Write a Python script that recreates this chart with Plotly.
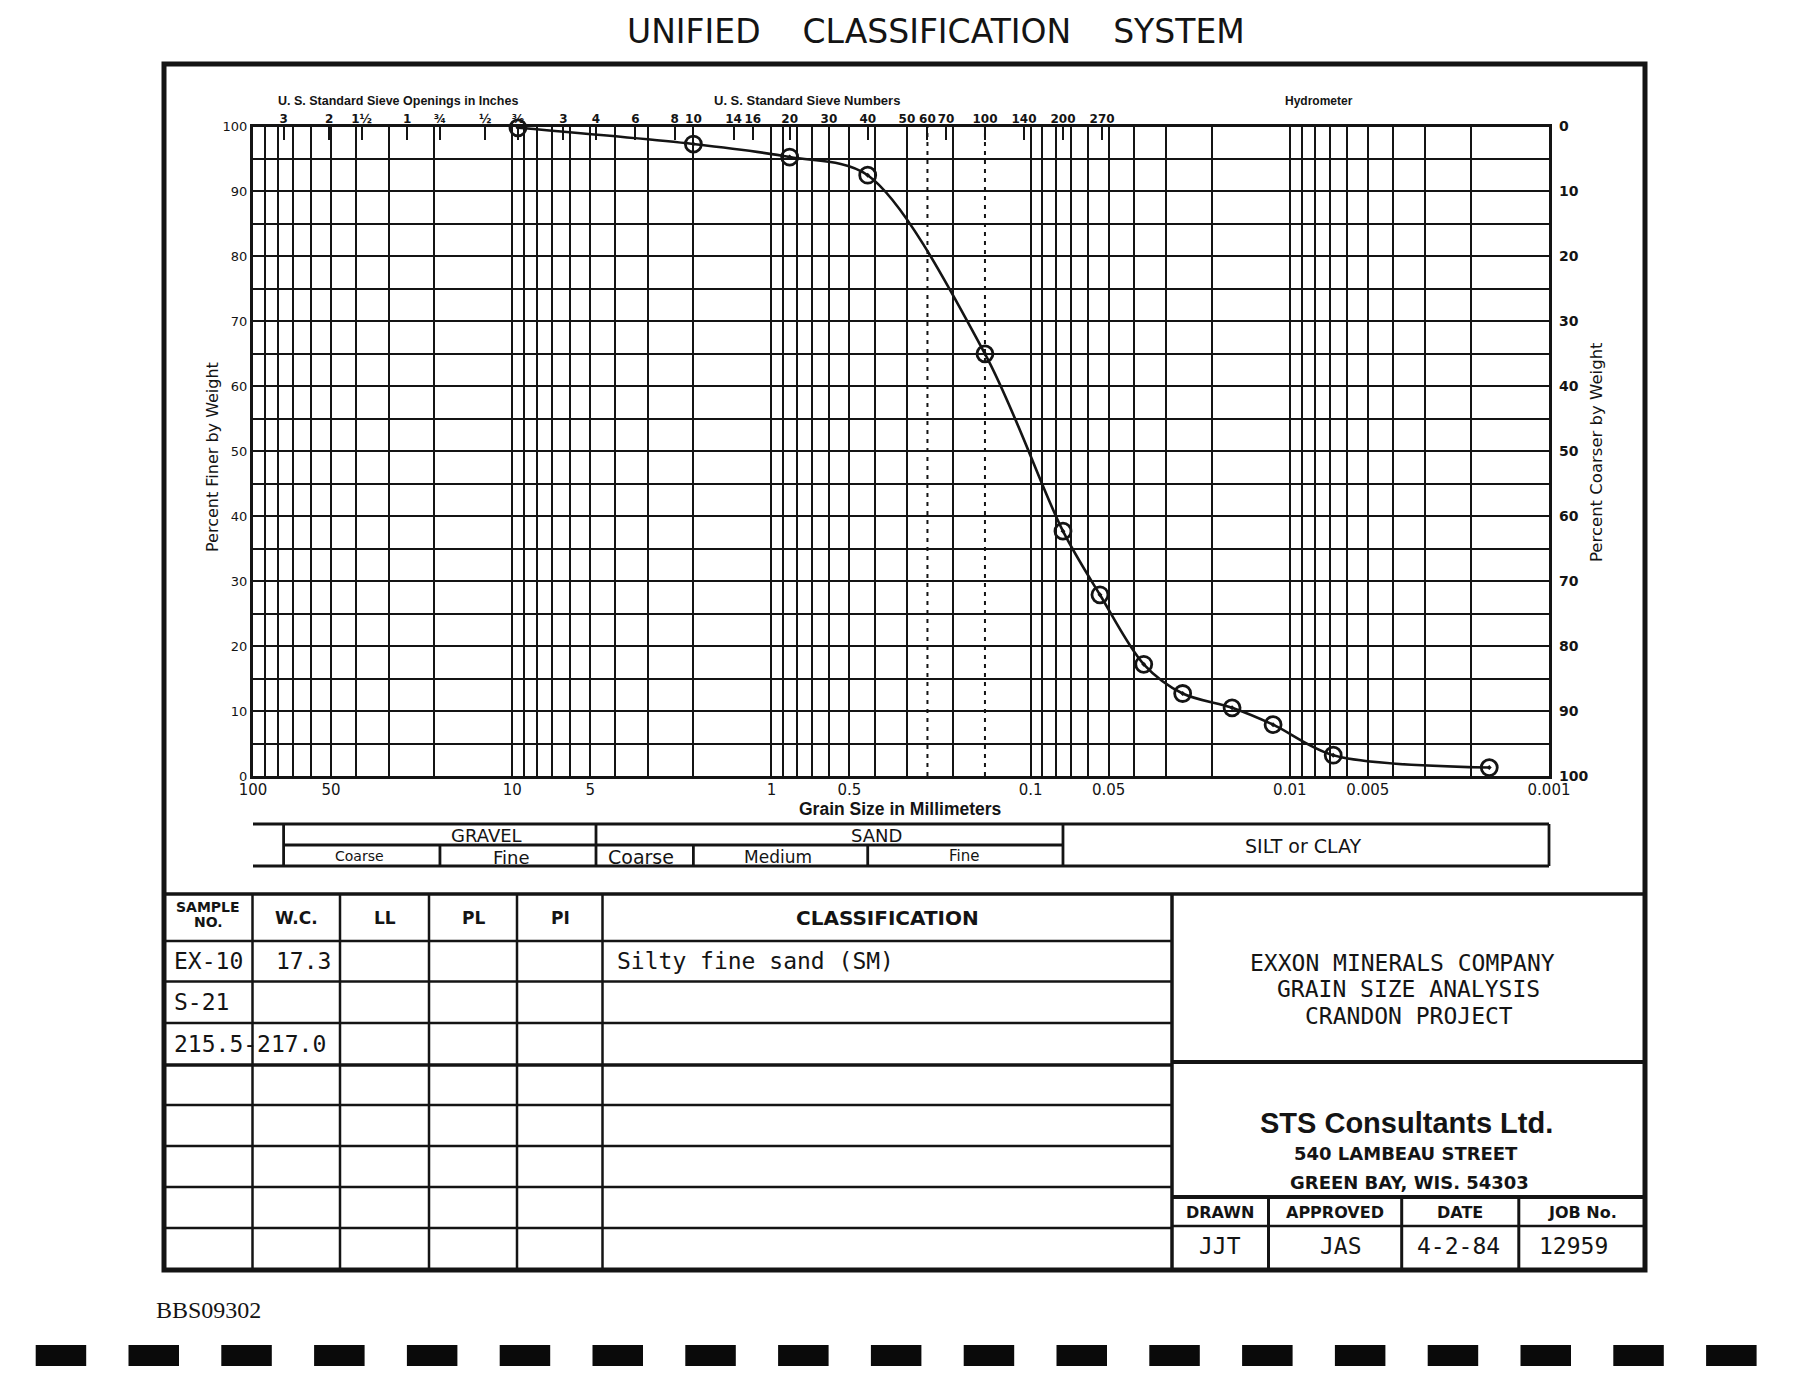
import plotly.graph_objects as go

# page body adds an 8 px margin; the figure is sized to fit inside the window
OFF = 8
W, H = 1800 - 2 * OFF, 1380 - 2 * OFF

# ---------------- data ----------------
grain_size_mm = [9.5, 2.0, 0.85, 0.425, 0.15, 0.075, 0.054, 0.0366, 0.0259, 0.0167, 0.0116, 0.0068, 0.0017]
percent_finer = [99.8, 97.3, 95.3, 92.5, 65.0, 37.7, 27.9, 17.2, 12.7, 10.5, 7.9, 3.2, 1.3]

sieve_sizes_mm = [76.2, 50.8, 38.1, 25.4, 19.0, 12.7, 9.5, 6.35, 4.75, 3.35, 2.36, 2.0, 1.40, 1.18,
                  0.85, 0.60, 0.425, 0.30, 0.25, 0.212, 0.15, 0.106, 0.075, 0.053]
sieve_labels = ["3", "2", "1½", "1", "¾", "½", "⅜", "3", "4", "6", "8", "10", "14", "16",
                "20", "30", "40", "50", "60", "70", "100", "140", "200", "270"]

grain_tick_mm = [100, 50, 10, 5, 1, 0.5, 0.1, 0.05, 0.01, 0.005, 0.001]
grain_tick_labels = ["100", "50", "10", "5", "1", "0.5", "0.1", "0.05", "0.01", "0.005", "0.001"]

finer_ticks = list(range(0, 101, 5))
finer_tick_labels = [str(v) if v % 10 == 0 else "" for v in finer_ticks]
coarser_ticks = list(range(0, 101, 10))

dashed_sieves_mm = [0.25, 0.15]          # No. 60 and No. 100 sieves
band_full_bounds_mm = [76.2, 4.75, 0.075, 0.001]
band_half_bounds_mm = [19.0, 2.0, 0.425]
band_outer_mm = [100, 0.001]
band_mid_mm = [76.2, 0.075]

table_headers = ["W.C.", "LL", "PL", "PI", "CLASSIFICATION"]
sample_no = ["EX-10", "S-21", "215.5-217.0"]
water_content = ["17.3", "", ""]
classification = ["Silty fine sand (SM)", "", ""]
project_lines = ["EXXON MINERALS COMPANY", "GRAIN SIZE ANALYSIS", "CRANDON PROJECT"]
signoff_headers = ["DRAWN", "APPROVED", "DATE", "JOB No."]
signoff_values = ["JJT", "JAS", "4-2-84", "12959"]

# ---------------- helpers (page pixels -> paper) ----------------
def fx(x):
    return (x - OFF) / W


def fy(y):
    return 1 - (y - OFF) / H


INK = "#141414"
MONO = "DejaVu Sans Mono"
SANS = "DejaVu Sans"
LIB = "Liberation Sans"

annotations = []


def ann(text, x, y, size, family=SANS, bold=False, xanchor="center", angle=0, color=INK):
    annotations.append(dict(
        text=text, x=fx(x), y=fy(y), xref="paper", yref="paper",
        xanchor=xanchor, yanchor="middle", showarrow=False, textangle=angle,
        font=dict(family=family, size=size, color=color, weight=700 if bold else 400)))


shapes = []


def hline(y, x0, x1, w=2.5):
    shapes.append(dict(type="line", xref="paper", yref="paper", x0=fx(x0), x1=fx(x1),
                       y0=fy(y), y1=fy(y), line=dict(color=INK, width=w)))


def vline(x, y0, y1, w=2.5):
    shapes.append(dict(type="line", xref="paper", yref="paper", x0=fx(x), x1=fx(x),
                       y0=fy(y0), y1=fy(y1), line=dict(color=INK, width=w)))


fig = go.Figure()

# main gradation curve
fig.add_trace(go.Scatter(
    x=grain_size_mm, y=percent_finer, mode="lines+markers",
    line=dict(shape="spline", smoothing=0.9, color=INK, width=2.6),
    marker=dict(symbol="circle-open-dot", size=16, color=INK, line=dict(width=2.8)),
    cliponaxis=False, xaxis="x", yaxis="y", hoverinfo="skip"))

# dashed sieve lines
for d in dashed_sieves_mm:
    fig.add_trace(go.Scatter(x=[d, d], y=[0, 100], mode="lines",
                             line=dict(color=INK, width=2, dash="4px,5px"),
                             xaxis="x", yaxis="y", hoverinfo="skip"))

# invisible anchors for overlay axes
fig.add_trace(go.Scatter(x=[1], y=[50], mode="markers", marker=dict(opacity=0), xaxis="x2", yaxis="y", hoverinfo="skip"))
fig.add_trace(go.Scatter(x=[1], y=[50], mode="markers", marker=dict(opacity=0), xaxis="x3", yaxis="y", hoverinfo="skip"))
fig.add_trace(go.Scatter(x=[1], y=[50], mode="markers", marker=dict(opacity=0), xaxis="x", yaxis="y2", hoverinfo="skip"))

# soil classification band
bx, by = [], []
for yv in (1, 0):
    bx += band_outer_mm + [None]
    by += [yv, yv, None]
bx += band_mid_mm + [None]
by += [0.5, 0.5, None]
for b in band_full_bounds_mm:
    bx += [b, b, None]
    by += [0, 1, None]
for b in band_half_bounds_mm:
    bx += [b, b, None]
    by += [0, 0.5, None]
fig.add_trace(go.Scatter(x=bx, y=by, mode="lines", line=dict(color=INK, width=2.8),
                         xaxis="x4", yaxis="y3", hoverinfo="skip"))

# ---------------- axes ----------------
PX0, PX1, PY0, PY1 = 253, 1549, 126.5, 776
xdom = [fx(PX0), fx(PX1)]
ydom = [fy(PY1), fy(PY0)]
ext = 8 * 5 / (PX1 - PX0)

common_x = dict(type="log", range=[2, -3], fixedrange=True, zeroline=False, automargin=False)

fig.update_layout(
    template="none",
    width=W, height=H, margin=dict(l=0, r=0, t=0, b=0, autoexpand=False),
    paper_bgcolor="white", plot_bgcolor="white", showlegend=False, hovermode=False,
    xaxis=dict(**common_x, domain=xdom, anchor="y", dtick="D1", showgrid=True,
               gridcolor=INK, gridwidth=2, showticklabels=False, ticks="",
               showline=True, linewidth=3, linecolor=INK, mirror=True),
    xaxis2=dict(**common_x, overlaying="x", side="top", anchor="y",
                tickmode="array", tickvals=sieve_sizes_mm, ticktext=sieve_labels, tickangle=0,
                ticks="inside", ticklen=13, tickwidth=2, tickcolor=INK, showgrid=False,
                showline=False, tickfont=dict(family=SANS, size=12, color=INK, weight=700)),
    xaxis3=dict(**common_x, overlaying="x", side="bottom", anchor="y",
                tickmode="array", tickvals=grain_tick_mm, ticktext=grain_tick_labels, tickangle=0,
                ticks="", showgrid=False, showline=False, ticklabelstandoff=3,
                tickfont=dict(family=SANS, size=15, color=INK)),
    xaxis4=dict(type="log", range=[2 + ext, -3 - ext], domain=[fx(PX0 - 8), fx(PX1 + 8)],
                anchor="y3", visible=False, fixedrange=True, automargin=False),
    yaxis=dict(range=[0, 100], domain=ydom, anchor="x", tickmode="array",
               tickvals=finer_ticks, ticktext=finer_tick_labels, showgrid=True,
               gridcolor=INK, gridwidth=2, ticks="", showline=True, linewidth=3,
               linecolor=INK, mirror=True, zeroline=False, fixedrange=True, automargin=False,
               tickfont=dict(family=SANS, size=13, color=INK)),
    yaxis2=dict(range=[100, 0], overlaying="y", side="right", anchor="x", tickmode="array",
                tickvals=coarser_ticks, showgrid=False, ticks="", showline=False,
                zeroline=False, fixedrange=True, automargin=False, ticklabelstandoff=9,
                tickfont=dict(family=SANS, size=14, color=INK, weight=700)),
    yaxis3=dict(range=[-6 / 42, 1 + 6 / 42], domain=[fy(872), fy(818)], anchor="x4",
                visible=False, fixedrange=True, automargin=False),
)

# ---------------- chart texts ----------------
sp = "\u00a0" * 4
ann("UNIFIED" + sp + "CLASSIFICATION" + sp + "SYSTEM", 936, 32, 33)
ann("U. S. Standard Sieve Openings in Inches", 398, 101, 12.5, LIB, True)
ann("U. S. Standard Sieve Numbers", 807, 101, 13, LIB, True)
ann("Hydrometer", 1319, 101, 12, LIB, True)
ann("Percent Finer by Weight", 213, 457, 16, angle=-90)
ann("Percent Coarser by Weight", 1597, 452, 16.5, angle=-90)
ann("Grain Size in Millimeters", 900, 809, 17.5, LIB, True)

# band labels
ann("GRAVEL", 486, 835, 18)
ann("SAND", 876, 835, 18)
ann("Coarse", 359, 856, 14)
ann("Fine", 511, 857, 18)
ann("Coarse", 641, 857, 19)
ann("Medium", 778, 857, 17)
ann("Fine", 964, 856, 15)
ann("SILT or CLAY", 1303, 846, 19)

# ---------------- frame & table ----------------
shapes.append(dict(type="rect", xref="paper", yref="paper", x0=fx(164), x1=fx(1645),
                   y0=fy(1270), y1=fy(64), line=dict(color=INK, width=5)))
hline(894, 164, 1645, 3.5)
for yv in [941, 981.5, 1023, 1105, 1146, 1187, 1228]:
    hline(yv, 164, 1172, 2.5)
hline(1065, 164, 1172, 3.5)
for xv in [252.5, 340, 429, 517, 602.5]:
    vline(xv, 894, 1270, 2.5)
vline(1172, 894, 1270, 3.5)
hline(1062, 1172, 1645, 4)
hline(1197, 1172, 1645, 4)
hline(1226, 1172, 1645, 2.5)
for xv in [1268.5, 1401.7, 1518.8]:
    vline(xv, 1197, 1270, 3)

# table header
ann("SAMPLE", 208, 907, 14, bold=True)
ann("NO.", 208, 922, 14, bold=True)
for t, xc in zip(table_headers, [296, 384.5, 473, 560, 887]):
    ann(t, xc, 918, 20 if t == "CLASSIFICATION" else 17, bold=True)

for i, yc in enumerate([961, 1002, 1044]):
    ann(sample_no[i], 172, yc, 23, MONO, xanchor="left")
    if water_content[i]:
        ann(water_content[i], 333, yc, 23, MONO, xanchor="right")
    if classification[i]:
        ann(classification[i], 615, yc, 23, MONO, xanchor="left")

# project block
for t, xc, yc in zip(project_lines, [1402, 1408, 1409], [963, 989, 1016]):
    ann(t, xc, yc, 23, MONO)
ann("STS Consultants Ltd.", 1406, 1123, 29, LIB, True)
ann("540 LAMBEAU STREET", 1406, 1153, 18, bold=True)
ann("GREEN BAY, WIS. 54303", 1409, 1182, 18, bold=True)
for t, xc in zip(signoff_headers, [1220, 1335, 1460, 1582]):
    ann(t, xc, 1212, 16, bold=True)
for t, xc in zip(signoff_values, [1220, 1341, 1458, 1573]):
    ann(t, xc, 1246, 23, MONO)

ann("BBS09302", 154, 1310, 24, "Liberation Serif", xanchor="left")

# scan registration marks
for i in range(19):
    x0 = 35.7 + i * 92.8
    shapes.append(dict(type="rect", xref="paper", yref="paper", x0=fx(x0), x1=fx(x0 + 50.5),
                       y0=fy(1366), y1=fy(1345), line=dict(width=0), fillcolor="#0a0a0a"))

fig.update_layout(annotations=annotations, shapes=shapes)
fig.write_html("out.html", config={"displayModeBar": False})
